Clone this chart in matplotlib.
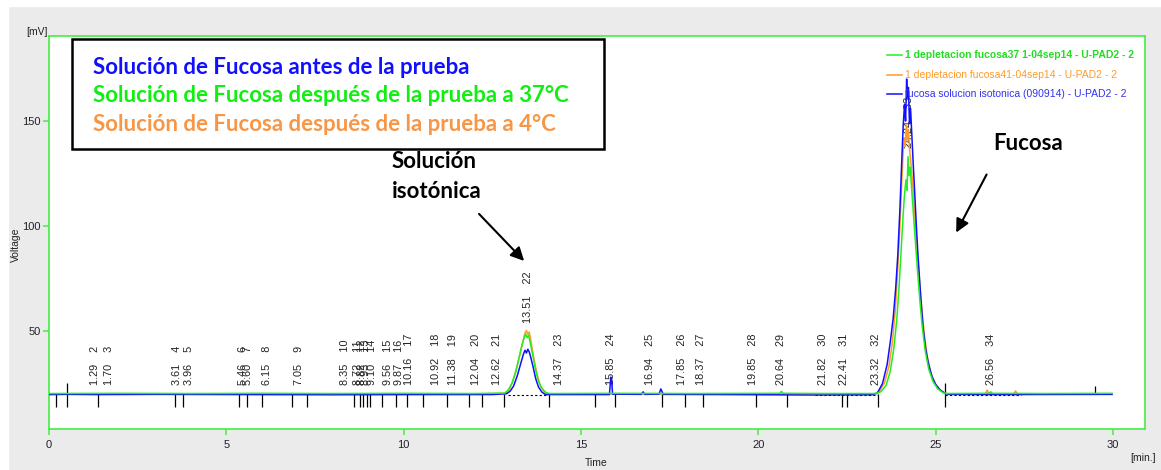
import matplotlib
matplotlib.use('Agg')
import matplotlib.pyplot as plt
from matplotlib.patches import Rectangle


# retention times (min) and signal (mV)
BLUE_T = [0.0, 0.5, 1.3, 3.0, 5.5, 8.0, 10.5, 12.5, 12.9, 13.0, 13.1, 13.2, 13.3, 13.38,
          13.42, 13.46, 13.5, 13.54, 13.58, 13.65, 13.72, 13.8, 13.9, 14.0, 15.8, 15.84,
          15.86, 15.89, 16.7, 16.75, 16.8, 17.2, 17.25, 17.32, 19.0, 21.5, 23.2, 23.35,
          23.5, 23.63, 23.72, 23.8, 23.87, 23.93, 23.99, 24.04, 24.08, 24.12, 24.15, 24.18,
          24.2, 24.23, 24.26, 24.29, 24.33, 24.37, 24.41, 24.46, 24.5, 24.57, 24.64, 24.72,
          24.8, 24.9, 25.0, 25.12, 25.25, 25.35, 27.0, 29.97]
BLUE_V = [19.7, 19.8, 19.7, 19.8, 19.7, 19.6, 19.7, 19.7, 20.1, 21.3, 23.8, 28.5, 34.5, 39.2,
          40.8, 39.5, 41.3, 40.0, 37.6, 32.8, 27.4, 23.3, 20.8, 19.7, 19.7, 28.0,
          27.0, 19.9, 19.8, 21.0, 19.8, 19.9, 22.4, 19.8, 19.7, 19.5, 19.6, 20.3,
          25.0, 34.0, 45.0, 56.0, 70.0, 86.0, 108.0, 130.0, 147.0, 158.0, 150.0, 170.0,
          161.0, 166.0, 149.0, 156.0, 142.0, 128.0, 115.0, 98.0, 86.0, 68.0, 52.0, 41.0,
          34.0, 28.0, 24.5, 22.0, 20.4, 19.8, 19.7, 19.8]

GREEN_T = [0.0, 2.0, 4.0, 6.0, 8.0, 10.0, 12.0, 12.85, 12.95, 13.05, 13.15, 13.25, 13.33,
           13.4, 13.44, 13.48, 13.52, 13.56, 13.62, 13.7, 13.78, 13.88, 14.0, 14.1, 16.0,
           18.0, 20.6, 20.65, 20.7, 22.0, 23.3, 23.45, 23.6, 23.72, 23.82, 23.9, 23.97,
           24.03, 24.08, 24.12, 24.16, 24.19, 24.22, 24.25, 24.28, 24.32, 24.37, 24.42,
           24.48, 24.55, 24.62, 24.7, 24.8, 24.92, 25.05, 25.2, 25.3, 26.5, 26.55, 26.6,
           28.0, 29.97]
GREEN_V = [20.2, 20.3, 20.2, 20.3, 20.2, 20.3, 20.2, 20.4, 22.0, 25.0, 30.0, 37.0, 43.0,
           47.0, 48.5, 46.8, 48.0, 45.0, 40.0, 33.0, 27.0, 23.0, 20.8, 20.2, 20.3,
           20.2, 20.3, 21.2, 20.3, 20.2, 20.2, 21.0, 24.0, 31.0, 42.0, 55.0, 72.0,
           90.0, 105.0, 115.0, 122.0, 117.0, 133.0, 124.0, 128.0, 118.0, 106.0, 94.0,
           80.0, 65.0, 52.0, 41.0, 32.0, 26.0, 22.5, 20.6, 20.2, 20.3, 21.0, 20.3,
           20.2, 20.3]

ORANGE_T = [0.0, 3.0, 6.0, 9.0, 12.0, 12.88, 12.98, 13.08, 13.18, 13.28, 13.36, 13.42,
            13.46, 13.5, 13.54, 13.6, 13.67, 13.75, 13.85, 13.95, 14.05, 18.0, 23.25,
            23.4, 23.55, 23.68, 23.78, 23.86, 23.93, 23.99, 24.04, 24.08, 24.11, 24.14,
            24.17, 24.2, 24.23, 24.26, 24.3, 24.35, 24.4, 24.46, 24.52, 24.6, 24.68, 24.76,
            24.86, 24.98, 25.1, 25.25, 25.35, 26.4, 26.45, 26.5, 27.2, 27.25, 27.3, 29.97]
ORANGE_V = [20.0, 20.0, 20.1, 20.0, 20.0, 20.3, 22.3, 26.0, 32.0, 39.0, 45.0, 49.0,
            50.2, 48.5, 49.5, 44.0, 37.0, 30.0, 24.0, 21.3, 20.0, 20.0, 20.0,
            21.0, 25.0, 33.0, 45.0, 60.0, 80.0, 100.0, 120.0, 135.0, 142.0, 138.0,
            148.0, 141.0, 146.0, 137.0, 130.0, 120.0, 108.0, 92.0, 78.0, 62.0, 48.0, 38.0,
            30.0, 25.0, 22.0, 20.5, 20.0, 20.0, 21.8, 20.0, 20.0, 21.4, 20.0, 20.0]

# integration peak table: number, retention time, label height (mV)
PEAK_NUM = ['2', '3', '4', '5', '6', '7', '8', '9', '10', '11', '12', '13', '14', '15',
            '16', '17', '18', '19', '20', '21', '22', '23', '24', '25', '26', '27', '28',
            '29', '30', '31', '32', '33', '34']
PEAK_RT = ['1.29', '1.70', '3.61', '3.96', '5.46', '5.60', '6.15', '7.05', '8.35', '8.72',
           '8.82', '8.93', '9.10', '9.56', '9.87', '10.16', '10.92', '11.38', '12.04',
           '12.62', '13.51', '14.37', '15.85', '16.94', '17.85', '18.37', '19.85', '20.64',
           '21.82', '22.41', '23.32', '24.24', '26.56']
PEAK_H = [20] * 20 + [49.5] + [20] * 10 + [133] + [20]

# integration marks (min)
MARK_T = [0.19, 1.39, 3.55, 3.78, 5.36, 5.58, 6.0, 6.85, 7.27, 8.6, 8.77, 8.85, 8.96, 9.05,
          9.39, 9.78, 10.09, 10.54, 11.22, 11.84, 12.21, 12.83, 14.1, 15.39, 15.96, 17.28,
          17.93, 18.44, 19.93, 20.81, 22.36, 22.5, 23.37]
TALL_T = [0.52, 25.26]
BASE_SEG = [(12.95, 14.05), (21.6, 23.37), (25.26, 27.4)]

LEGEND_LABELS = ['1 depletacion fucosa37 1-04sep14 - U-PAD2 - 2',
                 '1 depletacion fucosa41-04sep14 - U-PAD2 - 2',
                 'fucosa solucion isotonica (090914) - U-PAD2 - 2']
BOX_LINES = ['Solución de Fucosa antes de la prueba',
             'Solución de Fucosa después de la prueba a 37°C',
             'Solución de Fucosa después de la prueba a 4°C']

C_BLUE = '#1010ff'
C_GREEN = '#22ee22'
C_ORANGE = '#ff9a2a'
C_FRAME = '#44ee44'
TICK_FONT = 'Liberation Sans'
BOLD_FONT = ['Lato', 'DejaVu Sans']


def draw_traces(ax):
    ax.plot(ORANGE_T, ORANGE_V, color=C_ORANGE, lw=1.1, zorder=3)
    ax.plot(BLUE_T, BLUE_V, color=C_BLUE, lw=1.1, zorder=4)
    ax.plot(GREEN_T, GREEN_V, color=C_GREEN, lw=1.1, zorder=5)
    for t0, t1 in BASE_SEG:
        ax.plot([t0, t1], [19.6, 19.6], color='black', lw=0.8, ls=(0, (2, 2)), zorder=2)
    ax.vlines(MARK_T, 14, 20, color='black', lw=0.9, zorder=2)
    ax.vlines(TALL_T, 14, 25, color='black', lw=0.9, zorder=2)
    ax.vlines([29.49], 20, 24, color='black', lw=0.9, zorder=2)


def draw_peak_labels(ax):
    for num, rt, h in zip(PEAK_NUM, PEAK_RT, PEAK_H):
        ax.annotate(f'{rt}    {num}', (float(rt), h), xytext=(0, 6.5),
                    textcoords='offset points', rotation=90, ha='center', va='bottom',
                    fontsize=7.8, family=TICK_FONT, color='#222222', zorder=1)


def draw_notes(ax):
    ax.add_patch(Rectangle((0.021, 0.712), 0.485, 0.28, transform=ax.transAxes,
                           fill=True, facecolor='white', edgecolor='black', lw=1.8,
                           zorder=6))
    for txt, col, y in zip(BOX_LINES, [C_BLUE, '#11ee11', '#f79646'],
                           [0.921, 0.849, 0.776]):
        ax.text(0.040, y, txt, transform=ax.transAxes, color=col, fontsize=16,
                fontweight='bold', family=BOLD_FONT, va='center', ha='left', zorder=7)

    ax.text(9.67, 123.5, 'Solución\nisotónica', fontsize=16, fontweight='bold',
            family=BOLD_FONT, va='center', ha='left', linespacing=1.5)
    ax.annotate('', xy=(13.45, 82.4), xytext=(12.07, 106.7),
                arrowprops=dict(arrowstyle='-|>', color='black', lw=1.5,
                                mutation_scale=20))
    ax.text(27.6, 139.5, 'Fucosa', fontsize=16, fontweight='bold',
            family=BOLD_FONT, va='center', ha='center')
    ax.annotate('', xy=(25.54, 95.7), xytext=(26.47, 125.7),
                arrowprops=dict(arrowstyle='-|>', color='black', lw=1.5,
                                mutation_scale=20))

    # instrument legend
    rows = [0.952, 0.901, 0.853]
    for lbl, col, tcol, y, wt in zip(LEGEND_LABELS, [C_GREEN, C_ORANGE, C_BLUE],
                                     ['#22dd22', '#ff9a2a', '#3333ee'], rows,
                                     ['bold', 'normal', 'normal']):
        ax.plot([0.765, 0.778], [y, y], transform=ax.transAxes, color=col, lw=1.1,
                zorder=8)
        ax.text(0.781, y, lbl, transform=ax.transAxes, color=tcol, fontsize=7.5,
                fontweight=wt, family=TICK_FONT, va='center', ha='left', zorder=8)


def main():
    fig = plt.figure(figsize=(11.61, 4.70), dpi=100, facecolor='#ebebeb')
    fig.patches.append(Rectangle((0, 1 - 6 / 470), 1, 6 / 470, transform=fig.transFigure,
                                 color='white', zorder=0))
    fig.patches.append(Rectangle((0, 0), 8 / 1161, 1, transform=fig.transFigure,
                                 color='white', zorder=0))
    ax = fig.add_axes([49 / 1161, 1 - 429 / 470, 1096 / 1161, 393 / 470])
    ax.set_facecolor('white')
    ax.set_xlim(0, 30.9)
    ax.set_ylim(3.3, 190.5)

    draw_traces(ax)
    draw_peak_labels(ax)
    draw_notes(ax)

    for sp in ax.spines.values():
        sp.set_color(C_FRAME)
        sp.set_linewidth(1.2)
    ax.set_xticks([0, 5, 10, 15, 20, 25, 30])
    ax.set_yticks([50, 100, 150])
    ax.tick_params(colors=C_FRAME, labelcolor='#222222', length=4, width=1.1,
                   labelsize=8)
    for lab in ax.get_xticklabels() + ax.get_yticklabels():
        lab.set_family(TICK_FONT)
    ax.tick_params(axis='x', pad=4)
    ax.tick_params(axis='y', pad=2)

    fig.text(26 / 1161, 1 - 32 / 470, '[mV]', fontsize=7.5, family=TICK_FONT,
             color='#222222', va='center', ha='left')
    fig.text(16 / 1161, 1 - 245 / 470, 'Voltage', fontsize=7.5, family=TICK_FONT,
             color='#222222', rotation=90, va='center', ha='center')
    fig.text(596 / 1161, 1 - 463 / 470, 'Time', fontsize=7.5, family=TICK_FONT,
             color='#222222', va='center', ha='center')
    fig.text(1143 / 1161, 1 - 458 / 470, '[min.]', fontsize=7.5, family=TICK_FONT,
             color='#222222', va='center', ha='center')

    fig.savefig('out.png', dpi=100, facecolor=fig.get_facecolor())


if __name__ == '__main__':
    main()
